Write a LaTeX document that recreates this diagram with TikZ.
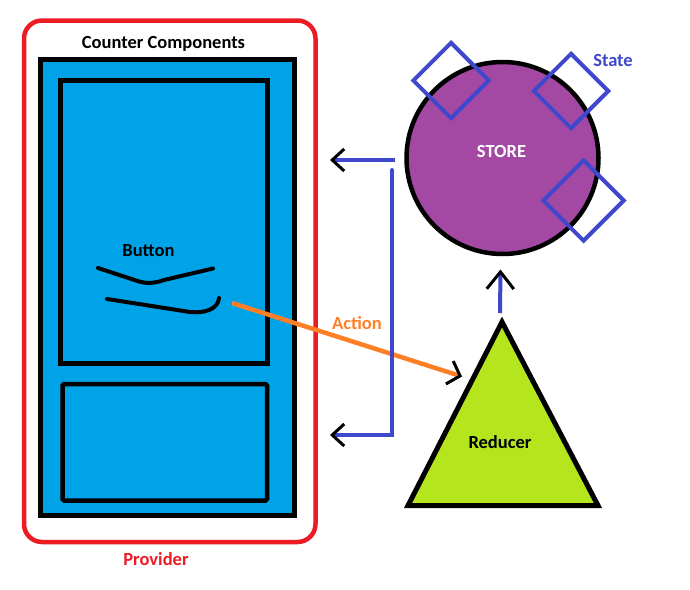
\documentclass[tikz,border=0pt]{standalone}
\usepackage{fontspec}
\setmainfont{Carlito}
\usetikzlibrary{shapes.geometric,arrows.meta}
\definecolor{pblue}{HTML}{00A2E8}
\definecolor{pred}{HTML}{ED1C24}
\definecolor{pindigo}{HTML}{3F48CC}
\definecolor{porange}{HTML}{FF7F27}
\definecolor{ppurple}{HTML}{A349A4}
\definecolor{plime}{HTML}{B5E61D}
\begin{document}
\begin{tikzpicture}[x=1pt,y=-1pt,
  lbl/.style={font=\fontsize{18.5}{20}\selectfont\bfseries, inner sep=0pt, anchor=base},
  box/.style={draw=black, line width=5pt, fill=pblue, inner sep=0pt, outer sep=0pt},
  statebox/.style={draw=pindigo, line width=4pt, diamond, inner sep=0pt, aspect=1},
  flow/.style={draw=pindigo, line width=4pt},
  chev/.style 2 args={-{Straight Barb[black,line width=3pt,length=#1,width=#2]}},
  scrib/.style={draw=black, line width=4pt, line cap=round, line join=round}]
\useasboundingbox (0,0) rectangle (690,589);
\fill[white] (0,0) rectangle (690,589);

% Provider
\node[draw=pred, line width=4.5pt, rounded corners=18pt, minimum width=291.5pt, minimum height=521.5pt, inner sep=0pt] (provider) at (169.75,281.25) {};
\node[lbl, text=pred] (providerlbl) at (156,565) {Provider};

% Counter components
\node[box, minimum width=254pt, minimum height=456pt] (counter) at (167.5,287.5) {};
\node[lbl] (counterlbl) at (163.5,48) {Counter Components};
\node[box, minimum width=206.5pt, minimum height=283pt] (upper) at (163.75,222) {};
\node[box, line width=4.5pt, minimum width=204.5pt, minimum height=116.5pt, rounded corners=1.5pt] (lower) at (164.75,442.25) {};
\node[lbl] (buttonlbl) at (148.5,256) {Button};
\draw[scrib] (98,268) -- (136,280.5) .. controls (146,284) and (154,283.5) .. (164,280) -- (213,268.5);
\draw[scrib] (107,299) -- (190,312) .. controls (205,313.5) and (218,309) .. (219,298);
\coordinate (btnend) at (232,303);

% Store
\node[circle, draw=black, line width=4.5pt, fill=ppurple, minimum size=192pt, inner sep=0pt] (store) at (502.5,158) {};
\node[lbl, text=white] (storelbl) at (501.5,157.5) {STORE};
\node[statebox, minimum width=77pt, minimum height=77pt] (s1) at (451,80.5) {};
\node[statebox, minimum width=76pt, minimum height=76pt] (s2) at (571,91) {};
\node[statebox, minimum width=82pt, minimum height=82pt] (s3) at (583.5,200.5) {};
\node[lbl, text=pindigo] (statelbl) at (613,66.5) {State};

% Reducer
\coordinate (rtop) at (502,322);
\coordinate (rbl) at (408,505.5);
\coordinate (rbr) at (598,505.5);
\draw[black, line width=5pt, fill=plime, line join=miter] (rtop) -- (rbl) -- (rbr) -- cycle;
\node[lbl] (reducerlbl) at (500,448) {Reducer};
\coordinate (rin) at (462,376.5);

% Action arrow
\draw[porange, line width=4.5pt, chev={11pt}{24pt}] (btnend) -- (rin);
\node[lbl, text=porange] (actionlbl) at (357,329) {Action};

% reducer -> store
\coordinate (upstart) at (500,313);
\coordinate (upend) at (500.5,269.5);
\draw[flow, chev={17pt}{27pt}] (upstart) -- (upend);

% store -> components
\coordinate (tA) at (395,160);
\coordinate (tB) at (330,160);
\coordinate (vA) at (392,170);
\coordinate (vB) at (392,435);
\coordinate (bB) at (330,435);
\draw[flow, chev={12pt}{22pt}] (tA) -- (tB);
\draw[flow, line cap=round, chev={12pt}{22pt}] (vA) -- (vB) -- (bB);
\end{tikzpicture}
\end{document}
